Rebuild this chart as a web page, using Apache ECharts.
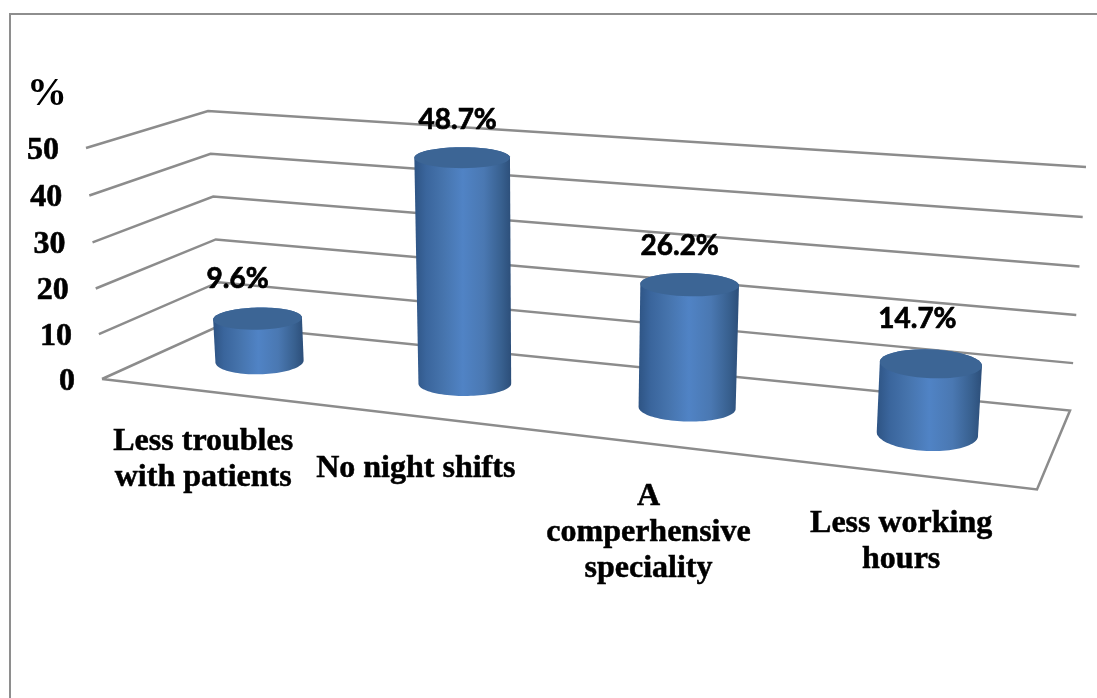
<!DOCTYPE html>
<html>
<head>
<meta charset="utf-8">
<style>html,body{margin:0;padding:0;background:#fff}#chart{width:1097px;height:698px}</style>
<script src="https://cdn.jsdelivr.net/npm/echarts@6/dist/echarts.min.js"></script>
</head>
<body>
<div id="chart"></div>
<script>
// Reasons for choosing the speciality, in percent
var categories = ['Less troubles\nwith patients', 'No night shifts', 'A\ncomperhensive\nspeciality', 'Less working\nhours'];
var shares = [9.6, 48.7, 26.2, 14.7];
var valueTicks = [0, 10, 20, 30, 40, 50];

// Scene layout: screen corners of the floor and the rise of each corner up to the axis maximum
var FLOOR = { bl: [221, 325], br: [1070, 410.5], fr: [1037, 489.5], fl: [102, 379] };
var RISE = { bl: [-13, -214], br: [16, -243.5], fr: [16, -251], fl: [-16, -231] };
var FORESHORTEN = { bl: [0], br: [0.035], fr: [0.035], fl: [0.035] };
var BAND_SHIFT = [0.004, 0.011, 0.012, 0.006], DEPTH = 0.505;
var LINE = '#8c8c8c', SERIF = 'bold 32px "Liberation Serif"', SANS = 'bold 28px Lato';
var LABEL_NUDGE = [[-20, -40], [-4.5, -38], [-10, -38.5], [-13.5, -44.5]];
var CATEGORY_NUDGE = [[2, 69], [0.5, 53], [0, 89.5], [-1, 68]];

// Square-to-quad projective map for the floor plane
var floorMap = (function () {
  var p0 = FLOOR.bl, p1 = FLOOR.br, p2 = FLOOR.fr, p3 = FLOOR.fl;
  var dx1 = p1[0] - p2[0], dx2 = p3[0] - p2[0], sx = p0[0] - p1[0] + p2[0] - p3[0];
  var dy1 = p1[1] - p2[1], dy2 = p3[1] - p2[1], sy = p0[1] - p1[1] + p2[1] - p3[1];
  var det = dx1 * dy2 - dx2 * dy1;
  var g = (sx * dy2 - dx2 * sy) / det, h = (dx1 * sy - sx * dy1) / det;
  var a = p1[0] - p0[0] + g * p1[0], b = p3[0] - p0[0] + h * p3[0];
  var d = p1[1] - p0[1] + g * p1[1], e = p3[1] - p0[1] + h * p3[1];
  return function (u, v) {
    var w = g * u + h * v + 1;
    return [(a * u + b * v + p0[0]) / w, (d * u + e * v + p0[1]) / w];
  };
})();

function bilerp(c, u, v) {
  return c.bl.map(function (_, k) {
    var back = c.bl[k] + (c.br[k] - c.bl[k]) * u;
    var front = c.fl[k] + (c.fr[k] - c.fl[k]) * u;
    return back + (front - back) * v;
  });
}

// Scene position for a floor location (u, v) at height fraction t
function project(u, v, t) {
  var base = floorMap(u, v), rise = bilerp(RISE, u, v);
  var f = t / (1 + bilerp(FORESHORTEN, u, v)[0] * (1 - t));
  return [base[0] + rise[0] * f, base[1] + rise[1] * f];
}

function heightFraction(params, api, value) {
  var r = params.coordSys, py = api.coord([0, value])[1];
  return (r.y + r.height - py) / r.height;
}

function ellipsePoints(c, rx, ry, deg, from, to) {
  var pts = [], rad = deg * Math.PI / 180, n = 48;
  for (var i = 0; i <= n; i++) {
    var a = from + (to - from) * i / n, x = rx * Math.cos(a), y = ry * Math.sin(a);
    pts.push([c[0] + x * Math.cos(rad) - y * Math.sin(rad), c[1] + x * Math.sin(rad) + y * Math.cos(rad)]);
  }
  return pts;
}

function renderWall(params, api) {
  var tick = api.value(0);
  var t = heightFraction(params, api, tick);
  var fl = project(0, 1, t), bl = project(0, 0, t), br = project(1, 0, t);
  var pts = [fl, bl, br];
  if (tick === 0) pts = [FLOOR.fl, FLOOR.bl, FLOOR.br, FLOOR.fr, FLOOR.fl];
  return {
    type: 'group',
    children: [
      { type: 'polyline', shape: { points: pts }, style: { stroke: LINE, lineWidth: 2.5, fill: null } },
      { type: 'text', style: { text: String(tick), x: fl[0] - 27, y: fl[1] + 2.5, font: SERIF, fill: '#000', stroke: '#000', lineWidth: 0.6,
        textAlign: 'right', textVerticalAlign: 'middle', align: 'right', verticalAlign: 'middle' } }
    ]
  };
}

function renderCylinder(params, api) {
  var r = params.coordSys, i = api.value(0), value = api.value(1);
  var u = (api.coord([i, 0])[0] - r.x) / r.width + BAND_SHIFT[i];
  var t = heightFraction(params, api, value);
  var tilt = -2 + 5 * u;
  var ry = 16 * u * u - 11 * u + 14.2, rx = 43 + 8.7 * u;
  var base = project(u, DEPTH, 0), top = project(u, DEPTH, t);
  var rxTop = rx + 1.5 * t, ryTop = ry * 0.85;
  var lower = ellipsePoints(base, rx, ry, tilt, Math.PI, 0);
  var upper = ellipsePoints(top, rxTop, ryTop, tilt, 0, -Math.PI);
  var bodyFill = new echarts.graphic.LinearGradient(0, 0, 1, 0, [
    { offset: 0, color: '#2e5484' },
    { offset: 0.12, color: '#3a659c' },
    { offset: 0.3, color: '#4674ad' },
    { offset: 0.5, color: '#5083c5' },
    { offset: 0.72, color: '#4a78b2' },
    { offset: 0.9, color: '#38608f' },
    { offset: 1, color: '#2c4e79' }
  ]);
  var nudge = LABEL_NUDGE[i], cat = CATEGORY_NUDGE[i], front = project(u, 1, 0);
  return {
    type: 'group',
    children: [
      { type: 'polygon', shape: { points: lower.concat(upper) }, style: { fill: bodyFill } },
      { type: 'polygon', shape: { points: ellipsePoints(top, rxTop, ryTop, tilt, 0, 2 * Math.PI) }, style: { fill: '#3c6595' } },
      { type: 'text', style: { text: value.toFixed(1) + '%', x: top[0] + nudge[0], y: top[1] + nudge[1], font: SANS, fill: '#000', stroke: '#000', lineWidth: 0.7,
        textAlign: 'center', textVerticalAlign: 'middle', align: 'center', verticalAlign: 'middle' } },
      { type: 'text', style: { text: categories[i], x: front[0] + cat[0], y: front[1] + cat[1], font: SERIF, fill: '#000', stroke: '#000', lineWidth: 0.5, lineHeight: 36,
        textAlign: 'center', textVerticalAlign: 'middle', align: 'center', verticalAlign: 'middle' } }
    ]
  };
}

var chart = echarts.init(document.getElementById('chart'), null, { renderer: 'canvas' });
chart.setOption({
  animation: false,
  backgroundColor: '#fff',
  grid: { left: 86, right: 61, top: 148, bottom: 318 },
  xAxis: { type: 'category', data: categories, show: false },
  yAxis: { type: 'value', min: 0, max: 50, interval: 10, show: false },
  graphic: [
    { type: 'polyline', shape: { points: [[10, 698], [10, 14], [1097, 14]] }, style: { stroke: '#8e8e8e', lineWidth: 2, fill: null } },
    { type: 'text', x: 47, y: 95, style: { text: '%', font: 'bold 40px "Liberation Serif"', fill: '#000', textAlign: 'center', textVerticalAlign: 'middle', align: 'center', verticalAlign: 'middle' } }
  ],
  series: [
    { type: 'custom', coordinateSystem: 'cartesian2d', renderItem: renderWall, silent: true,
      encode: { y: 0 }, data: valueTicks.map(function (v) { return [v]; }) },
    { type: 'custom', coordinateSystem: 'cartesian2d', renderItem: renderCylinder, silent: true,
      encode: { x: 0, y: 1 }, data: shares.map(function (v, i) { return [i, v]; }) }
  ]
});
</script>
</body>
</html>
